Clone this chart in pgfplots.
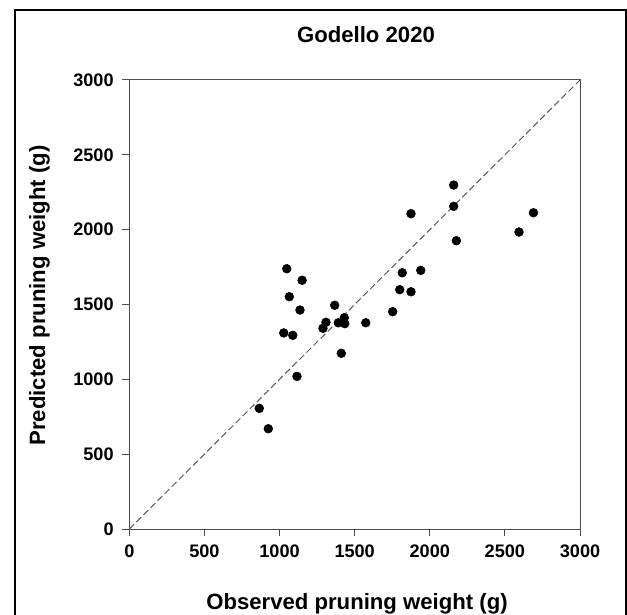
\documentclass[border=0pt]{standalone}
\usepackage{fontspec}
\setmainfont{Liberation Sans}
\usepackage{pgfplots}
\pgfplotsset{compat=1.18}
\newcommand{\labfont}{\fontsize{16.6}{19}\selectfont\bfseries}
\begin{document}
\begin{tikzpicture}
\useasboundingbox (0,0) rectangle (470.25pt,460.5pt);
\draw[line width=1.5pt] (11.25pt,-5pt) -- (11.25pt,453pt) -- (469.5pt,453pt) -- (469.5pt,-5pt);
\begin{axis}[
  at={(97pt,63.75pt)}, anchor=south west,
  scale only axis, width=338pt, height=336.75pt,
  xmin=0, xmax=3000, ymin=0, ymax=3000,
  xtick={0,500,...,3000}, ytick={0,500,...,3000},
  tick align=outside, major tick length=5.25pt,
  xtick pos=bottom, ytick pos=left,
  axis line style={draw=black!70, line width=0.75pt},
  tick style={draw=black!70, line width=0.75pt},
  /pgf/number format/assume math mode=true,
  /pgf/number format/1000 sep={},
  tick label style={font=\fontsize{13.6}{15}\selectfont\bfseries},
  xticklabel style={yshift=-3pt},
  yticklabel style={xshift=-3pt},
  clip=false,
]
\addplot[black!65, dash pattern=on 5pt off 2.5pt, line width=0.75pt, forget plot] coordinates {(0,0) (3000,3000)};
\addplot[only marks, mark=*, mark size=3.3pt, mark options={fill=black, draw=black}] coordinates {
(1048,1739) (1150,1662) (1065,1552) (1136,1463) (1367,1495) (1309,1381)
(1289,1341) (1028,1310) (1088,1294) (1391,1378) (1431,1412) (1434,1372)
(1574,1378) (1411,1174) (1116,1020) (865,806) (925,670) (1753,1452)
(1800,1599) (1875,1585) (1817,1712) (1940,1728) (2159,2298) (2159,2156)
(1875,2107) (2177,1926) (2690,2113) (2594,1984)
};
\end{axis}
\node[font=\labfont, anchor=base] at (274.5pt,428.25pt) {Godello 2020};
\node[font=\labfont, anchor=base] at (267.75pt,3.75pt) {Observed pruning weight (g)};
\node[font=\labfont, anchor=base, rotate=90] at (33.75pt,238.9pt) {Predicted pruning weight (g)};
\end{tikzpicture}
\end{document}
